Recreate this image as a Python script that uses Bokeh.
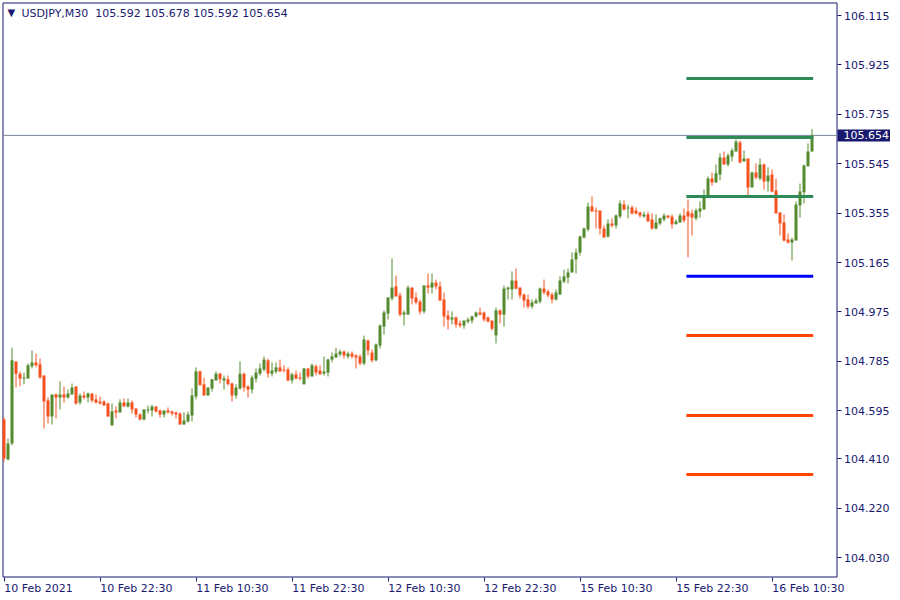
from bokeh.plotting import figure
from bokeh.models import (ColumnDataSource, FixedTicker, Label, LinearAxis,
                          PrintfTickFormatter)
from bokeh.embed import file_html
from bokeh.resources import INLINE
from bokeh.core.properties import value

SYMBOL = "USDJPY"
TIMEFRAME = "M30"

opens = [104.562, 104.408, 104.469, 104.785, 104.738, 104.719, 104.719, 104.766, 104.781, 104.774,
         104.731, 104.635, 104.573, 104.658, 104.646, 104.658, 104.646, 104.658, 104.689, 104.627,
         104.654, 104.646, 104.662, 104.639, 104.631, 104.631, 104.623, 104.539, 104.596, 104.589,
         104.627, 104.612, 104.627, 104.604, 104.581, 104.562, 104.596, 104.596, 104.612, 104.596,
         104.581, 104.596, 104.592, 104.589, 104.585, 104.542, 104.554, 104.577, 104.650, 104.746,
         104.697, 104.654, 104.681, 104.712, 104.738, 104.712, 104.716, 104.700, 104.654, 104.681,
         104.738, 104.689, 104.677, 104.719, 104.738, 104.754, 104.789, 104.738, 104.746, 104.762,
         104.754, 104.754, 104.712, 104.735, 104.723, 104.697, 104.758, 104.727, 104.766, 104.750,
         104.738, 104.742, 104.792, 104.800, 104.812, 104.823, 104.804, 104.815, 104.808, 104.804,
         104.777, 104.865, 104.819, 104.789, 104.846, 104.919, 104.969, 105.027, 105.073, 105.039,
         104.965, 104.965, 105.069, 105.031, 105.015, 104.977, 105.077, 105.069, 105.088, 105.073,
         105.023, 104.961, 104.946, 104.954, 104.931, 104.923, 104.938, 104.942, 104.958, 104.973,
         104.973, 104.954, 104.942, 104.885, 104.981, 104.965, 105.062, 105.062, 105.096, 105.069,
         105.042, 105.023, 104.996, 105.008, 105.015, 105.065, 105.054, 105.042, 105.023, 105.042,
         105.092, 105.108, 105.127, 105.177, 105.204, 105.261, 105.292, 105.381, 105.365, 105.365,
         105.296, 105.265, 105.315, 105.308, 105.342, 105.388, 105.373, 105.377, 105.365, 105.358,
         105.342, 105.350, 105.331, 105.296, 105.315, 105.331, 105.346, 105.342, 105.312, 105.319,
         105.346, 105.361, 105.354, 105.335, 105.361, 105.369, 105.419, 105.488, 105.473, 105.504,
         105.569, 105.542, 105.573, 105.592, 105.627, 105.554, 105.565, 105.454, 105.511, 105.488,
         105.542, 105.477, 105.504, 105.442, 105.358, 105.319, 105.254, 105.242, 105.250, 105.385,
         105.435, 105.535, 105.592]

highs = [104.569, 104.488, 104.838, 104.785, 104.746, 104.742, 104.777, 104.827, 104.815, 104.796,
         104.731, 104.646, 104.658, 104.662, 104.708, 104.689, 104.677, 104.700, 104.689, 104.662,
         104.669, 104.665, 104.662, 104.658, 104.650, 104.635, 104.627, 104.623, 104.612, 104.639,
         104.642, 104.642, 104.635, 104.604, 104.585, 104.600, 104.615, 104.619, 104.612, 104.600,
         104.596, 104.608, 104.596, 104.592, 104.589, 104.589, 104.592, 104.681, 104.762, 104.750,
         104.723, 104.685, 104.716, 104.746, 104.742, 104.731, 104.731, 104.704, 104.697, 104.785,
         104.742, 104.693, 104.731, 104.758, 104.777, 104.804, 104.796, 104.781, 104.781, 104.792,
         104.770, 104.762, 104.742, 104.750, 104.742, 104.758, 104.758, 104.777, 104.773, 104.770,
         104.804, 104.796, 104.819, 104.838, 104.831, 104.827, 104.823, 104.823, 104.812, 104.812,
         104.884, 104.869, 104.831, 104.854, 104.927, 104.981, 105.031, 105.181, 105.115, 105.050,
         104.981, 105.077, 105.069, 105.050, 105.023, 105.077, 105.123, 105.123, 105.100, 105.092,
         105.050, 104.981, 104.977, 104.958, 104.942, 104.942, 104.954, 104.961, 104.977, 104.992,
         104.977, 104.958, 104.942, 104.992, 104.985, 105.077, 105.073, 105.131, 105.142, 105.069,
         105.046, 105.042, 105.023, 105.027, 105.069, 105.100, 105.062, 105.050, 105.062, 105.112,
         105.138, 105.142, 105.204, 105.219, 105.269, 105.300, 105.396, 105.419, 105.377, 105.365,
         105.308, 105.331, 105.335, 105.350, 105.404, 105.404, 105.388, 105.385, 105.377, 105.361,
         105.361, 105.361, 105.354, 105.350, 105.338, 105.354, 105.346, 105.350, 105.331, 105.354,
         105.373, 105.408, 105.369, 105.373, 105.400, 105.446, 105.496, 105.511, 105.542, 105.585,
         105.592, 105.585, 105.604, 105.638, 105.634, 105.596, 105.565, 105.515, 105.546, 105.565,
         105.546, 105.531, 105.523, 105.488, 105.358, 105.350, 105.277, 105.261, 105.400, 105.469,
         105.542, 105.623, 105.678]

lows = [104.400, 104.405, 104.462, 104.685, 104.689, 104.697, 104.719, 104.758, 104.762, 104.719,
        104.527, 104.546, 104.542, 104.566, 104.600, 104.627, 104.642, 104.658, 104.619, 104.619,
        104.639, 104.627, 104.627, 104.623, 104.619, 104.615, 104.573, 104.539, 104.566, 104.589,
        104.612, 104.608, 104.585, 104.569, 104.558, 104.558, 104.585, 104.573, 104.589, 104.569,
        104.569, 104.585, 104.577, 104.566, 104.542, 104.542, 104.550, 104.554, 104.639, 104.693,
        104.654, 104.654, 104.669, 104.712, 104.700, 104.677, 104.693, 104.631, 104.642, 104.677,
        104.669, 104.646, 104.662, 104.704, 104.731, 104.746, 104.723, 104.727, 104.738, 104.746,
        104.742, 104.708, 104.700, 104.716, 104.712, 104.697, 104.719, 104.727, 104.731, 104.735,
        104.731, 104.727, 104.781, 104.800, 104.804, 104.796, 104.796, 104.796, 104.758, 104.770,
        104.770, 104.808, 104.781, 104.785, 104.835, 104.888, 104.946, 105.019, 105.035, 104.958,
        104.923, 104.965, 105.004, 105.004, 104.965, 104.969, 105.046, 105.046, 105.062, 105.019,
        104.919, 104.908, 104.927, 104.915, 104.915, 104.911, 104.931, 104.931, 104.954, 104.961,
        104.938, 104.935, 104.904, 104.854, 104.931, 104.919, 105.023, 105.023, 105.062, 105.027,
        104.992, 104.988, 104.988, 105.008, 105.008, 105.042, 105.031, 105.008, 105.019, 105.042,
        105.085, 105.085, 105.127, 105.123, 105.192, 105.258, 105.285, 105.361, 105.296, 105.273,
        105.261, 105.261, 105.300, 105.296, 105.335, 105.365, 105.335, 105.350, 105.350, 105.338,
        105.338, 105.323, 105.292, 105.292, 105.308, 105.323, 105.335, 105.296, 105.312, 105.319,
        105.319, 105.185, 105.269, 105.327, 105.338, 105.369, 105.419, 105.461, 105.473, 105.481,
        105.542, 105.535, 105.554, 105.592, 105.546, 105.554, 105.419, 105.454, 105.485, 105.481,
        105.446, 105.438, 105.435, 105.354, 105.269, 105.246, 105.238, 105.173, 105.250, 105.338,
        105.392, 105.535, 105.592]

closes = [104.412, 104.469, 104.789, 104.738, 104.719, 104.723, 104.770, 104.781, 104.770, 104.723,
          104.631, 104.573, 104.658, 104.646, 104.658, 104.646, 104.662, 104.685, 104.623, 104.654,
          104.646, 104.662, 104.635, 104.627, 104.623, 104.615, 104.573, 104.592, 104.589, 104.627,
          104.612, 104.627, 104.600, 104.581, 104.562, 104.600, 104.600, 104.612, 104.592, 104.581,
          104.596, 104.589, 104.585, 104.581, 104.542, 104.558, 104.581, 104.654, 104.746, 104.693,
          104.654, 104.685, 104.716, 104.738, 104.716, 104.719, 104.697, 104.654, 104.685, 104.738,
          104.685, 104.677, 104.723, 104.742, 104.758, 104.792, 104.738, 104.750, 104.762, 104.746,
          104.750, 104.712, 104.735, 104.719, 104.719, 104.758, 104.727, 104.770, 104.742, 104.735,
          104.746, 104.792, 104.804, 104.815, 104.823, 104.808, 104.815, 104.804, 104.800, 104.777,
          104.869, 104.827, 104.789, 104.850, 104.923, 104.973, 105.031, 105.069, 105.035, 104.965,
          104.973, 105.069, 105.027, 105.012, 104.977, 105.077, 105.069, 105.088, 105.073, 105.019,
          104.958, 104.946, 104.954, 104.927, 104.923, 104.942, 104.946, 104.958, 104.973, 104.965,
          104.946, 104.938, 104.911, 104.981, 104.965, 105.065, 105.069, 105.096, 105.065, 105.039,
          105.019, 104.996, 105.012, 105.019, 105.065, 105.050, 105.039, 105.023, 105.050, 105.096,
          105.112, 105.127, 105.177, 105.204, 105.265, 105.296, 105.381, 105.361, 105.361, 105.296,
          105.261, 105.315, 105.308, 105.346, 105.392, 105.369, 105.377, 105.354, 105.354, 105.346,
          105.350, 105.323, 105.296, 105.319, 105.335, 105.346, 105.338, 105.312, 105.323, 105.346,
          105.327, 105.342, 105.338, 105.365, 105.373, 105.419, 105.488, 105.473, 105.508, 105.569,
          105.542, 105.577, 105.596, 105.631, 105.550, 105.565, 105.454, 105.511, 105.492, 105.542,
          105.477, 105.500, 105.438, 105.354, 105.315, 105.250, 105.242, 105.254, 105.388, 105.438,
          105.538, 105.592, 105.654]

date_tick_bars = [0, 24, 48, 72, 96, 120, 144, 168, 192]
date_tick_labels = ["10 Feb 2021", "10 Feb 22:30", "11 Feb 10:30", "11 Feb 22:30",
                    "12 Feb 10:30", "12 Feb 22:30", "15 Feb 10:30", "15 Feb 22:30",
                    "16 Feb 10:30"]
price_ticks = [106.115, 105.925, 105.735, 105.545, 105.355, 105.165,
               104.975, 104.785, 104.595, 104.410, 104.220, 104.030]

level_prices = [105.873, 105.646, 105.419, 105.112, 104.885, 104.577, 104.350]
level_kinds = ["res", "res", "res", "pivot", "sup", "sup", "sup"]
level_start_bar = 170.6
level_end_bar = 202.3

# ---------------- styling / geometry ----------------
NAVY = "#191970"
BULL = "#558B2F"
BEAR = "#F4511E"
PRICE_LINE = "#7A8899"
KIND_COLORS = {"res": "#2E8B57", "pivot": "#0000FF", "sup": "#FF4500"}
FONT = "DejaVu Sans"
FONT_PX = 11

CANVAS_W, CANVAS_H = 890, 596
BAR_PX = 4.0                     # horizontal pixels per bar
PX = 0.003845                    # price per vertical pixel
X_LEFT = -3.5 / BAR_PX           # bar index at the canvas' left edge
X_RIGHT = X_LEFT + CANVAS_W / BAR_PX
Y_TOP = 106.1727                 # price at the canvas' top edge
Y_BOT = Y_TOP - CANVAS_H * PX

# chart window (inside the canvas) in data units
CH_LEFT = X_LEFT + 2.5 / BAR_PX
CH_RIGHT = X_LEFT + 836.5 / BAR_PX
CH_TOP = Y_TOP - 2.5 * PX
CH_BOTTOM = Y_TOP - 576.5 * PX

# approximate DejaVu Sans advance widths (em) to left-align date labels at their ticks
_ADV = {d: 0.636 for d in "0123456789"}
_ADV.update({" ": 0.318, ":": 0.337, "F": 0.575, "e": 0.615, "b": 0.635})


def text_px(s):
    return sum(_ADV.get(ch, 0.6) for ch in s) * FONT_PX


n = len(closes)
bars = list(range(n))
colors = [BULL if c >= o else BEAR for o, c in zip(opens, closes)]
bottoms = [min(o, c) for o, c in zip(opens, closes)]
tops = [max(max(o, c), min(o, c) + PX) for o, c in zip(opens, closes)]

src = ColumnDataSource(dict(x=bars, open=opens, high=highs, low=lows, close=closes,
                            top=tops, bottom=bottoms, color=colors))

p = figure(frame_width=CANVAS_W, frame_height=CANVAS_H,
           x_range=(X_LEFT, X_RIGHT), y_range=(Y_BOT, Y_TOP),
           y_axis_location="right", output_backend="svg", toolbar_location=None,
           min_border=0, background_fill_color="white", border_fill_color="white")
p.grid.visible = False
p.outline_line_color = None

# chart window border
p.quad(left=[CH_LEFT], right=[CH_RIGHT], bottom=[CH_BOTTOM], top=[CH_TOP],
       fill_color=None, line_color=NAVY, line_width=1)

# price scale on the chart's right edge
p.yaxis.fixed_location = CH_RIGHT
p.yaxis.ticker = FixedTicker(ticks=price_ticks)
p.yaxis.formatter = PrintfTickFormatter(format="%.3f")
p.yaxis.major_tick_out = 4
p.yaxis.major_tick_in = 0
p.yaxis.minor_tick_line_color = None
p.yaxis.major_label_standoff = 3
p.yaxis.axis_line_color = None
p.yaxis.major_tick_line_color = NAVY
p.yaxis.major_label_text_color = NAVY
p.yaxis.major_label_text_font = FONT
p.yaxis.major_label_text_font_size = f"{FONT_PX}px"

# time scale: tick marks on the chart's bottom edge
p.xaxis.fixed_location = CH_BOTTOM
p.xaxis.ticker = FixedTicker(ticks=date_tick_bars)
p.xaxis.major_label_overrides = {b: "" for b in date_tick_bars}
p.xaxis.major_tick_out = 4
p.xaxis.major_tick_in = 0
p.xaxis.minor_tick_line_color = None
p.xaxis.axis_line_color = None
p.xaxis.major_tick_line_color = NAVY

# time labels, left-aligned at the tick marks (second axis without marks)
label_pos = [round(b + text_px(s) / 2 / BAR_PX, 3) for b, s in zip(date_tick_bars, date_tick_labels)]
date_axis = LinearAxis(ticker=FixedTicker(ticks=label_pos),
                       major_label_overrides={pos: s for pos, s in zip(label_pos, date_tick_labels)},
                       fixed_location=CH_BOTTOM, axis_line_color=None,
                       major_tick_out=4, major_tick_in=0, major_tick_line_color=None,
                       minor_tick_line_color=None, major_label_standoff=1,
                       major_label_text_color=NAVY, major_label_text_font=FONT,
                       major_label_text_font_size=f"{FONT_PX}px")
p.add_layout(date_axis, "below")

# current price line
p.segment(x0=[CH_LEFT], x1=[CH_RIGHT], y0=[closes[-1]], y1=[closes[-1]],
          line_color=PRICE_LINE, line_width=1)

# candles
p.segment(x0="x", x1="x", y0="low", y1="high", line_color="color", line_width=1, source=src)
p.vbar(x="x", width=0.75, top="top", bottom="bottom", fill_color="color",
       line_color=None, source=src)

# levels
lsrc = ColumnDataSource(dict(y=level_prices,
                             x0=[level_start_bar] * len(level_prices),
                             x1=[level_end_bar] * len(level_prices),
                             color=[KIND_COLORS[k] for k in level_kinds]))
p.segment(x0="x0", x1="x1", y0="y", y1="y", line_color="color", line_width=3,
          line_cap="butt", source=lsrc)

# current price box on the price scale
p.quad(left=[CH_RIGHT + 0.5 / BAR_PX], right=[X_RIGHT],
       bottom=[closes[-1] - 6 * PX], top=[closes[-1] + 6 * PX],
       fill_color=NAVY, line_color=None)
p.text(x=[CH_RIGHT + 6.5 / BAR_PX], y=[closes[-1]], text=[f"{closes[-1]:.3f}"],
       text_color="white", text_font=value(FONT), text_font_size=f"{FONT_PX}px",
       text_baseline="middle", text_align="left")

# header
p.add_layout(Label(x=7, x_units="screen", y=Y_TOP - 12.3 * PX, text="\u25BC",
                   text_color=NAVY, text_font=FONT, text_font_size="10px",
                   text_baseline="middle", text_align="left"))
header = (f"{SYMBOL},{TIMEFRAME}\u00a0\u00a0{opens[-1]:.3f} {highs[-1]:.3f} "
          f"{lows[-1]:.3f} {closes[-1]:.3f}")
p.add_layout(Label(x=21, x_units="screen", y=Y_TOP - 12.8 * PX, text=header,
                   text_color=NAVY, text_font=FONT, text_font_size=f"{FONT_PX}px",
                   text_baseline="middle", text_align="left"))

open("out.html", "w").write(file_html(p, INLINE))
